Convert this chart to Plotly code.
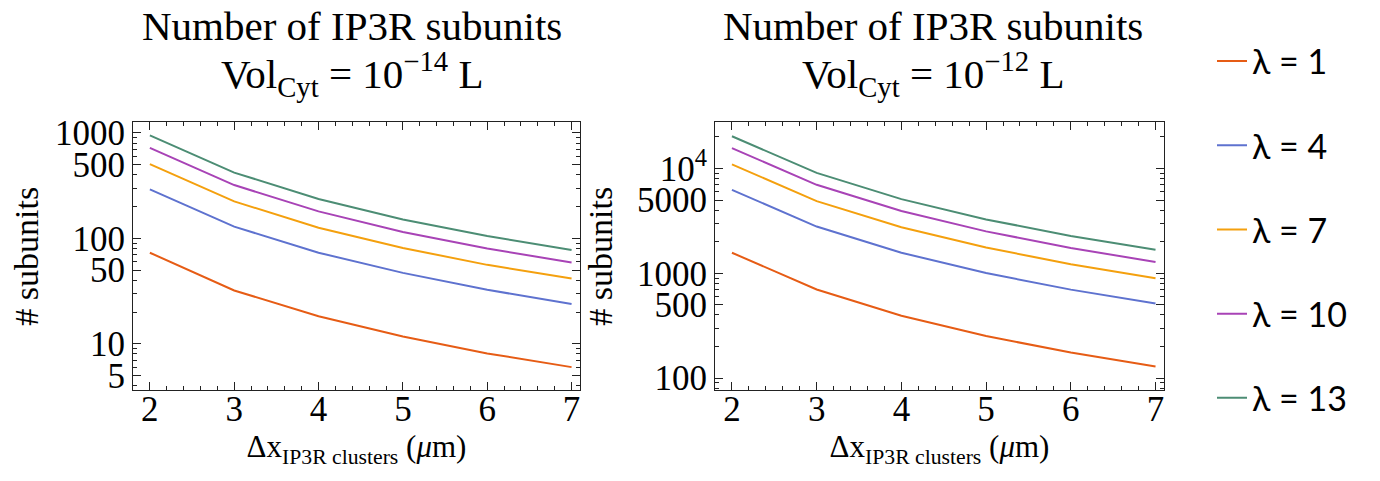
import plotly.graph_objects as go

x_spacing = [2, 3, 4, 5, 6, 7]
lambdas = [1, 4, 7, 10, 13]
colors = ["#E65C15", "#5E72CF", "#F4A00E", "#A843B6", "#4C8D74"]

# Vol_Cyt = 1e-14 L
left_vals = {
    1: [73, 32, 18.2, 11.7, 8.1, 6.0],
    4: [291, 129, 73, 47, 32.5, 23.8],
    7: [505, 224, 126, 81, 56, 41.5],
    10: [720, 320, 180, 115, 80, 59],
    13: [946, 420, 236, 151, 105, 77.5],
}
# Vol_Cyt = 1e-12 L
right_vals = {
    1: [1570, 700, 393, 252, 175, 129],
    4: [6250, 2790, 1570, 1005, 698, 515],
    7: [10950, 4880, 2750, 1760, 1220, 897],
    10: [15650, 6980, 3930, 2510, 1745, 1280],
    13: [20300, 9070, 5100, 3265, 2270, 1680],
}

left_ticks = [5, 10, 50, 100, 500, 1000]
left_ticktext = ["5", "10", "50", "100", "500", "1000"]
right_ticks = [100, 500, 1000, 5000, 10000]
right_ticktext = ["100", "500", "1000", "5000", "10<sup>4</sup>"]

W, H = 1380, 481
serif = "Liberation Serif"

fig = go.Figure()
for lam, col in zip(lambdas, colors):
    fig.add_trace(go.Scatter(x=x_spacing, y=left_vals[lam], mode="lines",
                             line=dict(color=col, width=2), name=f"λ = {lam}",
                             legendgroup=str(lam), xaxis="x", yaxis="y"))
    fig.add_trace(go.Scatter(x=x_spacing, y=right_vals[lam], mode="lines",
                             line=dict(color=col, width=2), name=f"λ = {lam}",
                             legendgroup=str(lam), showlegend=False,
                             xaxis="x2", yaxis="y2"))


def minor_log(lo, hi):
    vals = []
    d = 1
    while d <= hi:
        for m in range(1, 10):
            v = m * d
            if lo <= v <= hi:
                vals.append(v)
        d *= 10
    return vals


xl0, xl1 = 125, 572
xr0, xr1 = 707, 1156
yt, yb = 110, 387

common_x = dict(
    range=[1.8, 7.1], tickvals=x_spacing, ticks="inside", ticklen=8,
    tickcolor="#222", tickwidth=1, showline=True, linecolor="#222", linewidth=1,
    mirror="allticks", showgrid=False, zeroline=False,
    tickfont=dict(family=serif, size=35, color="black"), ticklabelstandoff=-12,
    minor=dict(dtick=0.2, ticks="inside", ticklen=4, tickcolor="#222", showgrid=False),
    title=dict(text="Δx<sub>IP3R clusters</sub> (<i>μ</i>m)",
               font=dict(family=serif, size=31, color="black"), standoff=6),
)
common_y = dict(
    type="log", ticks="inside", ticklen=8, tickcolor="#222", tickwidth=1,
    showline=True, linecolor="#222", linewidth=1, mirror="allticks",
    showgrid=False, zeroline=False,
    tickfont=dict(family=serif, size=35, color="black"),
)

fig.update_layout(
    width=W, height=H, margin=dict(l=0, r=0, t=0, b=0),
    paper_bgcolor="white", plot_bgcolor="white",
    xaxis=dict(domain=[xl0 / W, xl1 / W], anchor="y", **common_x),
    xaxis2=dict(domain=[xr0 / W, xr1 / W], anchor="y2", **common_x),
    yaxis=dict(domain=[1 - yb / H, 1 - yt / H], anchor="x", range=[0.56, 3.1],
               tickvals=left_ticks, ticktext=left_ticktext,
               minor=dict(tickvals=minor_log(3.6, 1250), ticks="inside", ticklen=4,
                          tickcolor="#222", showgrid=False),
               title=dict(text="# subunits", font=dict(family=serif, size=34, color="black"),
                          standoff=16),
               **common_y),
    yaxis2=dict(domain=[1 - yb / H, 1 - yt / H], anchor="x2", range=[1.885, 4.44],
                tickvals=right_ticks, ticktext=right_ticktext,
                minor=dict(tickvals=minor_log(76, 27500), ticks="inside", ticklen=4,
                           tickcolor="#222", showgrid=False),
                title=dict(text="# subunits", font=dict(family=serif, size=34, color="black"),
                           standoff=14),
                **common_y),
    legend=dict(x=1204 / W, y=1 - 17 / H, xanchor="left", yanchor="top",
                font=dict(family="Lato", size=34, color="black"),
                tracegroupgap=37, bgcolor="rgba(0,0,0,0)"),
    showlegend=True,
)

titles = [((xl0 + xl1) / 2 - 5, "−14"), ((xr0 + xr1) / 2 - 6, "−12")]
for cx, ex in titles:
    fig.add_annotation(x=cx / W, y=1 - 10 / H, xref="paper", yref="paper",
                       xanchor="center", yanchor="middle",
                       text="Number of IP3R subunits", showarrow=False,
                       font=dict(family=serif, size=41, color="black"))
    fig.add_annotation(x=cx / W, y=1 - 60 / H, xref="paper", yref="paper",
                       xanchor="center", yanchor="middle",
                       text=f"Vol<sub>Cyt</sub> = 10<sup>{ex}</sup> L", showarrow=False,
                       font=dict(family=serif, size=41, color="black"))

fig.write_html("out.html")
